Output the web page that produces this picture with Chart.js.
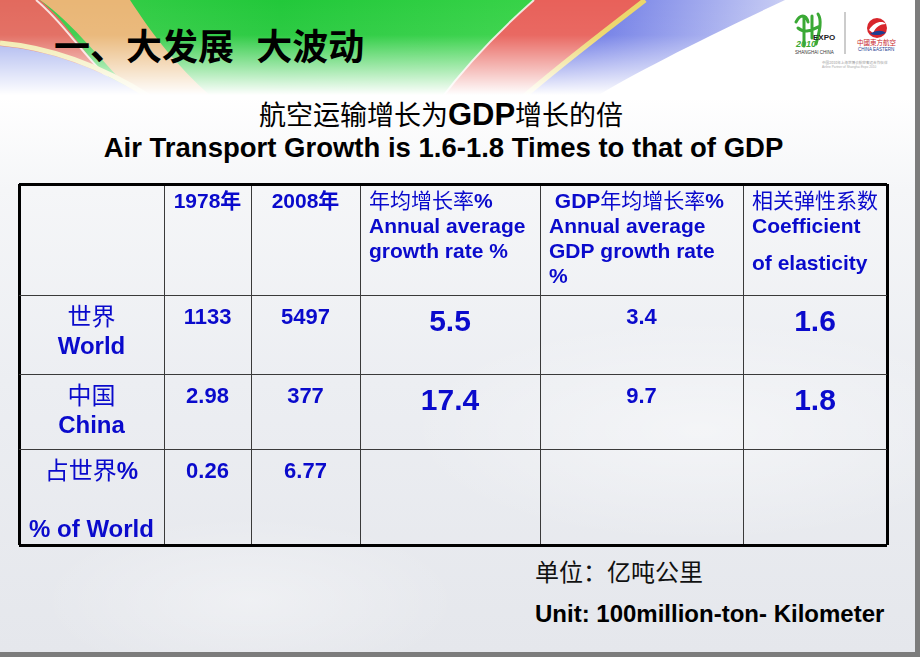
<!DOCTYPE html>
<html>
<head>
<meta charset="utf-8">
<script src="https://cdn.jsdelivr.net/npm/chart.js@4.4.1/dist/chart.umd.min.js"></script>
<style>
  html, body { margin: 0; padding: 0; }
  body { width: 920px; height: 657px; overflow: hidden; position: relative; background: #7c7c7c; }
  #slide {
    position: absolute; left: 0; top: 0; width: 915px; height: 652px; overflow: hidden;
    background:
      radial-gradient(ellipse 420px 160px at 700px 430px, rgba(255,255,255,0.45), rgba(255,255,255,0) 70%),
      radial-gradient(ellipse 300px 120px at 250px 600px, rgba(255,255,255,0.35), rgba(255,255,255,0) 70%),
      linear-gradient(180deg, #ffffff 0px, #ffffff 95px, #f5f6f8 190px, #eceef2 380px, #e5e7ec 652px);
  }
  #band { position: absolute; left: 0; top: 0; }
  .txt { position: absolute; white-space: nowrap; line-height: 1; }
  #headline { left: 54px; top: 18px; font: 700 36px "Noto Sans CJK SC", sans-serif; color: #000; word-spacing: 14px; }
  #title1 { left: 0; width: 882px; text-align: center; top: 94px; color: #000; }
  #title1 .cn { font: 400 27px "Noto Sans CJK SC", sans-serif; }
  #title1 .en { font: 700 31px "Liberation Sans", Arial, sans-serif; }
  #title2 { left: 0; width: 887px; text-align: center; top: 132px; font: 700 27.5px "Liberation Sans", Arial, sans-serif; color: #000; }
  #unitCn { left: 535px; top: 553px; font: 400 24px "Noto Sans CJK SC", sans-serif; color: #111; }
  #unitEn { left: 535px; top: 600px; font: 700 24px "Liberation Sans", Arial, sans-serif; color: #000; }
  #chart { position: absolute; left: 0; top: 0; }
</style>
</head>
<body>
<div id="slide">
  <svg id="band" width="915" height="100" viewBox="0 0 915 100">
    <defs>
      <linearGradient id="fade" x1="0" y1="0" x2="0" y2="1">
        <stop offset="0" stop-color="#fff" stop-opacity="0"/>
        <stop offset="0.35" stop-color="#fff" stop-opacity="0.05"/>
        <stop offset="0.7" stop-color="#fff" stop-opacity="0.6"/>
        <stop offset="0.95" stop-color="#fff" stop-opacity="1"/>
      </linearGradient>
      <linearGradient id="green" x1="0" y1="0" x2="1" y2="0">
        <stop offset="0" stop-color="#3fd04e"/>
        <stop offset="0.5" stop-color="#22c83a"/>
        <stop offset="1" stop-color="#3ad44a"/>
      </linearGradient>
      <linearGradient id="blue" x1="0" y1="0" x2="1" y2="0">
        <stop offset="0" stop-color="#4a5ae0"/>
        <stop offset="1" stop-color="#c8cdf4"/>
      </linearGradient>
      <linearGradient id="rightfade" x1="0" y1="0" x2="1" y2="0">
        <stop offset="0" stop-color="#fff" stop-opacity="0"/>
        <stop offset="0.6" stop-color="#fff" stop-opacity="0"/>
        <stop offset="1" stop-color="#fff" stop-opacity="1"/>
      </linearGradient>
    </defs>
    <rect x="0" y="0" width="560" height="100" fill="url(#green)"/>
    <path d="M0,0 L40,0 C70,25 80,50 110,80 L0,80 Z" fill="#e26a5e"/>
    <path d="M40,0 L130,0 C150,30 170,60 215,100 L140,100 C100,60 75,25 40,0 Z" fill="#e9b676"/>
    <path d="M36,0 C66,25 78,50 112,82" stroke="#fff" stroke-width="2" fill="none" opacity="0.8"/>
    <path d="M0,46 C45,50 95,65 150,100 L0,100 Z" fill="#a4b0ee"/>
    <path d="M0,43 C45,47 95,62 150,97" stroke="#f1eaa8" stroke-width="5" fill="none"/>
    <path d="M534,0 L645,0 C600,35 560,65 520,100 L440,100 C470,60 500,30 534,0 Z" fill="#e8615a"/>
    <path d="M534,0 C500,30 470,60 440,100" stroke="#fff" stroke-width="2" fill="none" opacity="0.8"/>
    <path d="M645,0 L785,0 C700,40 640,70 590,100 L520,100 C560,65 600,35 645,0 Z" fill="url(#blue)"/>
    <path d="M645,0 C600,35 560,65 520,100" stroke="#ecd66a" stroke-width="5" fill="none"/>
    <rect x="560" y="0" width="355" height="100" fill="url(#rightfade)" opacity="0.6"/>
    <rect x="0" y="0" width="915" height="100" fill="url(#fade)"/>
    <g>
      <path d="M796,22 C800,14 806,14 808,22 M804,18 L804,46 M798,28 C805,34 812,30 820,26 M812,16 L812,38 M818,14 C822,20 820,30 816,44" stroke="#3aa935" stroke-width="3" fill="none" stroke-linecap="round"/>
      <text x="813" y="40" font-family="Liberation Sans, Arial" font-weight="700" font-size="8" fill="#222">EXPO</text>
      <text x="796" y="47" font-family="Liberation Sans, Arial" font-weight="700" font-size="9" fill="#3aa935" font-style="italic">2010</text>
      <text x="795" y="54" font-family="Liberation Sans, Arial" font-size="4.5" fill="#333">SHANGHAI CHINA</text>
      <line x1="845" y1="12" x2="845" y2="54" stroke="#999" stroke-width="1"/>
      <circle cx="877" cy="28" r="10" fill="#d8262c"/>
      <path d="M869,30 C874,22 882,20 886,24 C880,24 876,27 873,33 Z" fill="#fff"/>
      <path d="M870,34 C876,30 882,30 886,33 C881,35 876,36 870,34 Z" fill="#1b3e91"/>
      <text x="857" y="45" font-family="Noto Sans CJK SC" font-size="6.5" fill="#c8262c">中國東方航空</text>
      <text x="858" y="51" font-family="Liberation Sans, Arial" font-size="4.5" fill="#1b3e91">CHINA EASTERN</text>
      <text x="822" y="64" font-family="Noto Sans CJK SC" font-size="3.6" fill="#999">中国2010年上海世博会航空客运合作伙伴</text>
      <text x="822" y="68" font-family="Liberation Sans, Arial" font-size="3.2" fill="#aaa">Airline Partner of Shanghai Expo 2010</text>
    </g>
  </svg>
  <div id="headline" class="txt">一、大发展 大波动</div>
  <div id="title1" class="txt"><span class="cn">航空运输增长为</span><span class="en">GDP</span><span class="cn">增长的倍</span></div>
  <div id="title2" class="txt">Air Transport Growth is 1.6-1.8 Times to that of GDP</div>
  <div id="unitCn" class="txt">单位：亿吨公里</div>
  <div id="unitEn" class="txt">Unit: 100million-ton- Kilometer</div>
</div>
<canvas id="chart" width="920" height="657"></canvas>
<script>
// ---------------- data ----------------
const columnHeaders = [
  '',
  '1978年',
  '2008年',
  '年均增长率%\nAnnual average\ngrowth rate %',
  ' GDP年均增长率%\nAnnual average\nGDP growth rate\n%',
  '相关弹性系数\nCoefficient\n\nof elasticity'
];
const rowLabels = ['世界\nWorld', '中国\nChina', '占世界%\n\n% of World'];
const traffic1978 = [1133, 2.98, 0.26];
const traffic2008 = [5497, 377, 6.77];
const airGrowthRate = [5.5, 17.4, null];
const gdpGrowthRate = [3.4, 9.7, null];
const elasticity = [1.6, 1.8, null];

// ---------------- layout (not data) ----------------
const colEdges = [0, 145, 232, 341, 521, 724, 868];
const rowEdges = [0, 111, 190, 265, 361];
const valueColumns = [traffic1978, traffic2008, airGrowthRate, gdpGrowthRate, elasticity];
const valueKinds = ['num', 'num', 'big', 'num', 'big'];
const BLUE = '#0a0acc';

const cells = [];
columnHeaders.forEach((t, c) => {
  cells.push({ x: (colEdges[c] + colEdges[c + 1]) / 2, y: (rowEdges[0] + rowEdges[1]) / 2,
    col: c, row: 0, text: t, kind: c <= 2 ? 'year' : 'header' });
});
rowLabels.forEach((t, r) => {
  cells.push({ x: (colEdges[0] + colEdges[1]) / 2, y: (rowEdges[r + 1] + rowEdges[r + 2]) / 2,
    col: 0, row: r + 1, text: t, kind: 'label' });
  valueColumns.forEach((arr, i) => {
    const v = arr[r];
    if (v === null || v === undefined) return;
    cells.push({ x: (colEdges[i + 1] + colEdges[i + 2]) / 2, y: (rowEdges[r + 1] + rowEdges[r + 2]) / 2,
      col: i + 1, row: r + 1, text: String(v), kind: valueKinds[i] });
  });
});

const CJK = /[\u2E80-\u9FFF\u3000-\u303F\uFF00-\uFFEF]/;
function splitRuns(str) {
  const out = []; let cur = '', cj = null;
  for (const ch of str) {
    const c = CJK.test(ch);
    if (cj === null || c === cj) { cur += ch; cj = c; }
    else { out.push({ t: cur, cjk: cj }); cur = ch; cj = c; }
  }
  if (cur) out.push({ t: cur, cjk: cj });
  return out;
}
function fontFor(run, size, allBold) {
  return run.cjk ? `${allBold ? 700 : 400} ${size}px "Noto Sans CJK SC", sans-serif`
                 : `700 ${size}px "Liberation Sans", Arial, sans-serif`;
}
function drawLine(ctx, str, x, cy, align, size, allBold) {
  const rs = splitRuns(str);
  let w = 0;
  rs.forEach(r => { ctx.font = fontFor(r, size, allBold); r.w = ctx.measureText(r.t).width; w += r.w; });
  let sx = align === 'center' ? x - w / 2 : x;
  const base = cy + 0.36 * size;
  rs.forEach(r => { ctx.font = fontFor(r, size, allBold); ctx.fillText(r.t, sx, base); sx += r.w; });
}

const tableText = {
  id: 'tableText',
  afterDatasetsDraw(chart) {
    const ctx = chart.ctx;
    const xs = chart.scales.x, ys = chart.scales.y;
    ctx.save();
    ctx.fillStyle = BLUE;
    ctx.textAlign = 'left';
    ctx.textBaseline = 'alphabetic';
    chart.data.datasets[0].data.forEach(p => {
      if (!p.text) return;
      const left = xs.getPixelForValue(colEdges[p.col]);
      const cx = xs.getPixelForValue(p.x);
      const top = ys.getPixelForValue(rowEdges[p.row]);
      const lines = p.text.split('\n');
      if (p.kind === 'year') {
        drawLine(ctx, lines[0], cx, top + 16, 'center', 21, true);
      } else if (p.kind === 'header') {
        let y = top + 16;
        lines.forEach(l => {
          if (l === '') { y += 12; return; }
          drawLine(ctx, l, left + 9, y, 'left', 21, false);
          y += 25.3;
        });
      } else if (p.kind === 'label') {
        let y = top + 21;
        lines.forEach(l => {
          if (l !== '') drawLine(ctx, l, cx, y, 'center', 24, false);
          y += 29;
        });
      } else if (p.kind === 'num') {
        drawLine(ctx, lines[0], cx, top + 21, 'center', 22, false);
      } else if (p.kind === 'big') {
        drawLine(ctx, lines[0], cx, top + 25, 'center', 30, false);
      }
    });
    ctx.restore();
  }
};

const edgeWidth = (n) => (c) => (c.index === 0 || c.index === n - 1) ? 3 : 1;
const edgeColor = (n) => (c) => (c.index === 0 || c.index === n - 1) ? '#000000' : '#3a3a3a';

new Chart(document.getElementById('chart'), {
  type: 'scatter',
  data: { datasets: [{ data: cells, pointRadius: 0, pointHoverRadius: 0, showLine: false }] },
  options: {
    responsive: false,
    animation: false,
    events: [],
    layout: { padding: { left: 19, right: 33, top: 184, bottom: 112 } },
    plugins: { legend: { display: false }, tooltip: { enabled: false }, title: { display: false } },
    scales: {
      x: {
        type: 'linear', min: colEdges[0], max: colEdges[colEdges.length - 1],
        afterBuildTicks: (s) => { s.ticks = colEdges.map(v => ({ value: v })); },
        ticks: { display: false },
        grid: { drawTicks: false, tickLength: 0, lineWidth: edgeWidth(colEdges.length), color: edgeColor(colEdges.length) },
        border: { display: false }
      },
      y: {
        type: 'linear', reverse: true, min: rowEdges[0], max: rowEdges[rowEdges.length - 1],
        afterBuildTicks: (s) => { s.ticks = rowEdges.map(v => ({ value: v })); },
        ticks: { display: false },
        grid: { drawTicks: false, tickLength: 0, lineWidth: edgeWidth(rowEdges.length), color: edgeColor(rowEdges.length) },
        border: { display: false }
      }
    }
  },
  plugins: [tableText]
});
</script>
</body>
</html>
